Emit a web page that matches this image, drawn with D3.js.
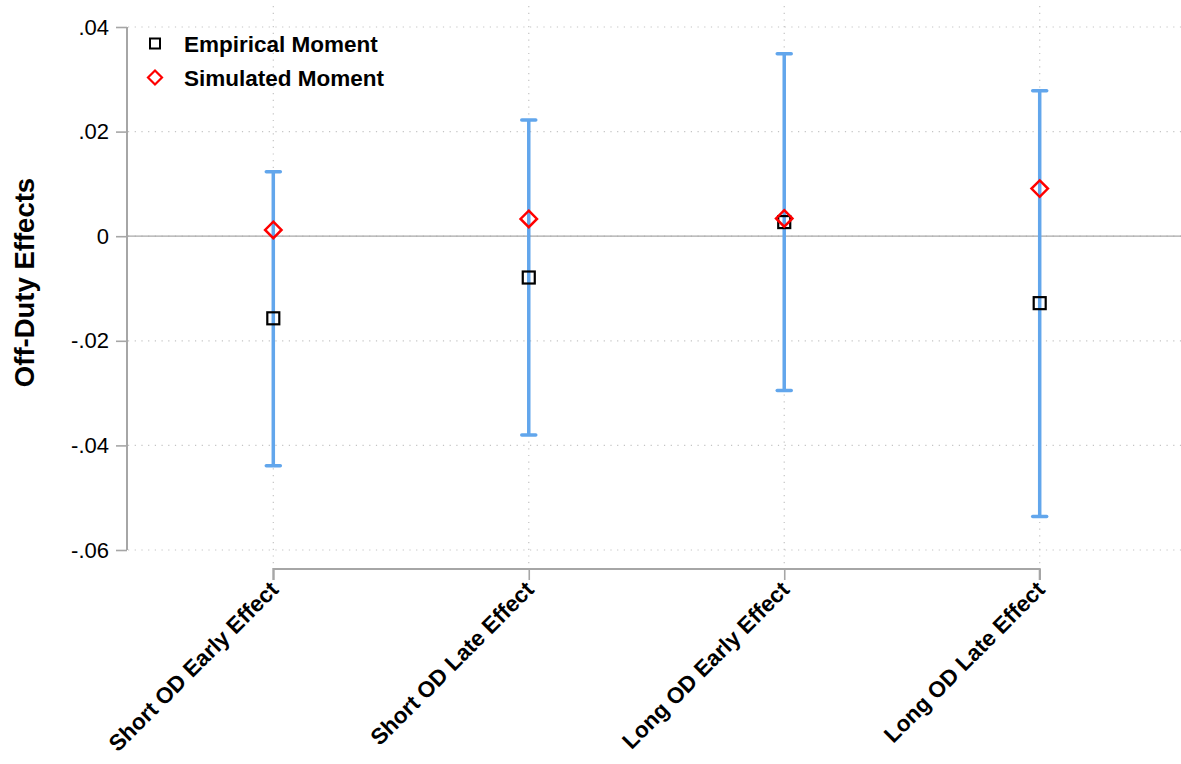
<!DOCTYPE html>
<html>
<head>
<meta charset="utf-8">
<script src="https://cdn.jsdelivr.net/npm/d3@7"></script>
<style>
html,body{margin:0;padding:0;background:#fff;}
svg{display:block;font-family:"Liberation Sans",Arial,Helvetica,sans-serif;}
</style>
</head>
<body>
<svg id="chart" width="1181" height="764"></svg>
<script>
// ---- data ----
const categories = ["Short OD Early Effect", "Short OD Late Effect", "Long OD Early Effect", "Long OD Late Effect"];
const empirical = [-0.0157, -0.0079, 0.0027, -0.0128];
const simulated = [0.0012, 0.0033, 0.0034, 0.0091];
const ciUpper = [0.0123, 0.0222, 0.0349, 0.0278];
const ciLower = [-0.0439, -0.0380, -0.0295, -0.0536];
const yTicks = [-0.06, -0.04, -0.02, 0, 0.02, 0.04];
const legendLabels = ["Empirical Moment", "Simulated Moment"];
const yTitle = "Off-Duty Effects";

const rows = categories.map((c, i) => ({c, emp: empirical[i], sim: simulated[i], hi: ciUpper[i], lo: ciLower[i]}));

const svg = d3.select("#chart");
const x = d3.scalePoint().domain(categories).range([273.3, 1039.7]);
const y = d3.scaleLinear().domain([-0.06, 0.04]).range([550, 27]);

const gridColor = "#c4c4c4";
const axisColor = "#a6a6a6";
const barColor = "#62a6ec";

const fmt = v => v === 0 ? "0" : d3.format(".2f")(v).replace("\u2212", "-").replace("0.", ".");

// horizontal gridlines
svg.append("g").selectAll("line").data(yTicks).join("line")
  .attr("x1", 128).attr("x2", 1181)
  .attr("y1", d => y(d)).attr("y2", d => y(d))
  .attr("stroke", gridColor).attr("stroke-width", 1.2)
  .attr("stroke-dasharray", "1.2,5.5");

// vertical gridlines
svg.append("g").selectAll("line").data(categories).join("line")
  .attr("x1", d => x(d)).attr("x2", d => x(d))
  .attr("y1", 6).attr("y2", 568)
  .attr("stroke", gridColor).attr("stroke-width", 1.2)
  .attr("stroke-dasharray", "1.2,5.5");

// zero line
svg.append("line")
  .attr("x1", 128).attr("x2", 1181)
  .attr("y1", y(0)).attr("y2", y(0))
  .attr("stroke", "#a8a8a8").attr("stroke-width", 1.3);

// y axis
const yAxis = d3.axisLeft(y).tickValues(yTicks).tickFormat(fmt).tickSize(11).tickPadding(7);
const gy = svg.append("g").attr("transform", "translate(127,0)").call(yAxis);
gy.select(".domain").attr("stroke", axisColor).attr("stroke-width", 2).attr("d", `M0,${y(0.04)}V${y(-0.06)}`);
gy.selectAll(".tick line").attr("stroke", axisColor).attr("stroke-width", 1.6);
gy.selectAll(".tick text").attr("font-size", 22).attr("fill", "#000")
  .attr("font-family", "'Liberation Sans',Arial,sans-serif");

// x axis
const xAxis = d3.axisBottom(x).tickSize(11).tickFormat("");
const gx = svg.append("g").attr("transform", "translate(0,569)").call(xAxis);
gx.select(".domain").attr("stroke", axisColor).attr("stroke-width", 2).attr("d", `M${x(categories[0])},11V0H${x(categories[3])}V11`);
gx.selectAll(".tick line").attr("stroke", axisColor).attr("stroke-width", 1.6);
gx.selectAll(".tick").append("text")
  .attr("transform", "translate(6,22) rotate(-45)")
  .attr("text-anchor", "end")
  .attr("font-size", 22.5).attr("font-weight", "bold").attr("fill", "#000")
  .attr("font-family", "'Liberation Sans',Arial,sans-serif")
  .text(d => d);

// error bars
const eb = svg.append("g");
eb.selectAll("line.v").data(rows).join("line").attr("class", "v")
  .attr("x1", d => x(d.c)).attr("x2", d => x(d.c))
  .attr("y1", d => y(d.hi)).attr("y2", d => y(d.lo))
  .attr("stroke", barColor).attr("stroke-width", 3.5);
["hi", "lo"].forEach(k => {
  eb.selectAll("line.c" + k).data(rows).join("line").attr("class", "c" + k)
    .attr("x1", d => x(d.c) - 7).attr("x2", d => x(d.c) + 7)
    .attr("y1", d => y(d[k])).attr("y2", d => y(d[k]))
    .attr("stroke", barColor).attr("stroke-width", 3.5).attr("stroke-linecap", "round");
});

// markers
const diaPath = s => `M0,${-s}L${s},0L0,${s}L${-s},0Z`;
svg.append("g").selectAll("rect").data(rows).join("rect")
  .attr("x", d => x(d.c) - 6).attr("y", d => y(d.emp) - 6)
  .attr("width", 12).attr("height", 12)
  .attr("fill", "none").attr("stroke", "#000").attr("stroke-width", 2.2);
svg.append("g").selectAll("path").data(rows).join("path")
  .attr("transform", d => `translate(${x(d.c)},${y(d.sim)})`)
  .attr("d", diaPath(8.2))
  .attr("fill", "none").attr("stroke", "#ff0000").attr("stroke-width", 2.5);

// legend
const lg = svg.append("g");
lg.append("rect").attr("x", 150).attr("y", 38.5).attr("width", 10).attr("height", 10)
  .attr("fill", "none").attr("stroke", "#000").attr("stroke-width", 2);
lg.append("path").attr("transform", "translate(155,77.5)").attr("d", diaPath(7))
  .attr("fill", "none").attr("stroke", "#ff0000").attr("stroke-width", 2.2);
lg.selectAll("text").data(legendLabels).join("text")
  .attr("x", 184).attr("y", (d, i) => 51.5 + i * 34)
  .attr("font-size", 22.5).attr("font-weight", "bold").attr("fill", "#000")
  .text(d => d);

// y title
svg.append("text")
  .attr("transform", "translate(34,282.5) rotate(-90)")
  .attr("text-anchor", "middle")
  .attr("font-size", 27.5).attr("font-weight", "bold").attr("fill", "#000")
  .text(yTitle);
</script>
</body>
</html>
